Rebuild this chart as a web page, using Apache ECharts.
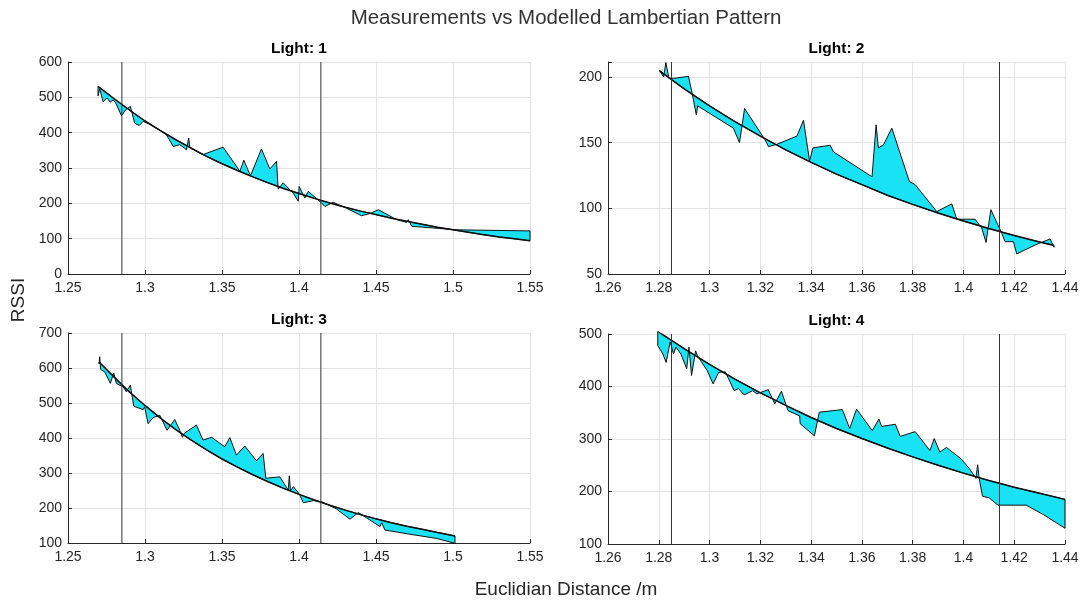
<!DOCTYPE html>
<html>
<head>
<meta charset="utf-8">
<script src="https://cdn.jsdelivr.net/npm/echarts@6/dist/echarts.min.js"></script>
<style>
html,body{margin:0;padding:0;background:#fff;}
#chart{width:1090px;height:602px;}
</style>
</head>
<body>
<div id="chart"></div>
<script>
// ---------- Data ----------
var light1X = [1.2695,1.2706,1.2728,1.2754,1.2775,1.2793,1.2810,1.2847,1.2875,1.2905,1.2933,1.2962,1.2988,1.3030,1.3070,1.3100,1.3139,1.3183,1.3226,1.3269,1.3284,1.3290,1.3356,1.3377,1.3507,1.3616,1.3642,1.3685,1.3756,1.3811,1.3854,1.3865,1.3897,1.3962,1.3995,1.4001,1.4038,1.4060,1.4147,1.4168,1.4222,1.4300,1.4406,1.4460,1.4515,1.4634,1.4699,1.4710,1.4732,1.5024,1.5500];
var light1Y = [504,524,487,498,486,493,484,448,465,474,427,420,432,424,413,406,394,361,366,352,385,360,342,338,359,291,322,278,354,297,319,240,258,229,206,248,215,234,201,191,203,188,165,171,182,154,146,154,135,125,122];
var model1X = [1.2695,1.28,1.29,1.30,1.31,1.32,1.33,1.34,1.35,1.36,1.37,1.38,1.39,1.40,1.41,1.42,1.43,1.44,1.45,1.46,1.47,1.48,1.49,1.50,1.51,1.52,1.53,1.54,1.55];
var model1Y = [531,496,464,433,406,380,356,333,312,293,275,258,242,228,214,201,189,178,168,158,149,140.5,132,125,118,111,105,99.5,94];

var light2X = [1.2803,1.2819,1.2828,1.2840,1.2861,1.2917,1.2931,1.2948,1.2953,1.3094,1.3118,1.3138,1.3219,1.3232,1.3262,1.3344,1.3370,1.3394,1.3407,1.3475,1.3488,1.3640,1.3656,1.3665,1.3685,1.3718,1.3787,1.3810,1.3895,1.3954,1.3974,1.4046,1.4072,1.4089,1.4108,1.4151,1.4164,1.4197,1.4210,1.4282,1.4341,1.4357];
var light2Y = [205,200,211,199,199,200.5,188,171,178,161,150,176,152,147,148.5,155,167,136,146,148,143,124,163.6,146,148.4,161,120.4,118,97.5,103.4,91.7,91.7,85,74,99,81,74.6,74.6,65.3,72,76.7,70.4];
var model2X = [1.2803,1.29,1.30,1.31,1.32,1.33,1.34,1.35,1.36,1.37,1.38,1.39,1.40,1.41,1.42,1.43,1.4357];
var model2Y = [204.7,191,178,166,155,144.5,135,126,118,110,103,96.4,90.3,84.6,79.3,74.4,71.7];

var light3X = [1.2702,1.2706,1.2712,1.2738,1.2775,1.2797,1.2814,1.2858,1.2879,1.2905,1.2927,1.2988,1.2998,1.3020,1.3052,1.3096,1.3143,1.3193,1.3226,1.3243,1.3254,1.3334,1.3377,1.3432,1.3518,1.3551,1.3594,1.3648,1.3724,1.3767,1.3785,1.3876,1.3930,1.3937,1.3945,1.3963,1.4002,1.4028,1.4093,1.4147,1.4244,1.4331,1.4385,1.4526,1.4537,1.4558,1.4721,1.4894,1.5013];
var light3Y = [612,632,596,589,556,586,556,546,532,551,491,481,489,441,458,465,422,453,422,402,413,437,394,402,375,401,351,377,335,356,285,289,251,292,249,261,240,215,221,218,197,168,187,147,158,137,125,113,99];
var model3X = [1.2702,1.28,1.29,1.30,1.31,1.32,1.33,1.34,1.35,1.36,1.37,1.38,1.39,1.40,1.41,1.42,1.43,1.44,1.45,1.46,1.47,1.48,1.49,1.5013];
var model3Y = [617,574,531,493,457,424,394,366,340,317,295,275,256,239,223,208,194,181,169,158,148,139,130,120];

var light4X = [1.2796,1.2816,1.2829,1.2845,1.2858,1.2868,1.2887,1.2910,1.2919,1.2929,1.2945,1.2952,1.2991,1.3014,1.3036,1.3062,1.3097,1.3114,1.3136,1.3170,1.3186,1.3231,1.3257,1.3283,1.3309,1.3355,1.3357,1.3413,1.3432,1.3523,1.3552,1.3579,1.3641,1.3667,1.3678,1.3732,1.3751,1.3810,1.3868,1.3885,1.3907,1.3933,1.3991,1.4023,1.4049,1.4056,1.4062,1.4075,1.4101,1.4136,1.4247,1.4315,1.4400];
var light4Y = [478,462,446,485,462,475,462,434,475,421,468,459,430,405,427,428,392,396,384,392,386,394,367,391,354,344,329,306,351,356,320,357,316,338,324,328,305,314,278,301,275,284,262,244,225,251,225,191,188,174,174,156,130];
var model4X = [1.2796,1.29,1.30,1.31,1.32,1.33,1.34,1.35,1.36,1.37,1.38,1.39,1.40,1.41,1.42,1.43,1.44];
var model4Y = [505,472,442,414,388,364,341,320,301,283,266,250,235,221,208,196.5,185];

var refLinesX = [1.2850, 1.4142];
var panelTitles = ['Light: 1','Light: 2','Light: 3','Light: 4'];
var xRanges = [[1.25,1.55,0.05],[1.26,1.44,0.02],[1.25,1.55,0.05],[1.26,1.44,0.02]];
var yRanges = [[0,600,100],[50,211.4,50],[100,700,100],[100,500,100]];

// ---------- Layout ----------
var grids = [
  {left:68, top:62, width:462, height:212},
  {left:608, top:62, width:457, height:212},
  {left:68, top:333, width:462, height:210},
  {left:608, top:334, width:457, height:210}
];
var FONT = '"Liberation Sans", Arial, Helvetica, sans-serif';
var AX = '#262626';
var GRIDC = '#e3e3e3';
var FILL = '#1ae2f5';

var panels = [
  [light1X, light1Y, model1X, model1Y],
  [light2X, light2Y, model2X, model2Y],
  [light3X, light3Y, model3X, model3Y],
  [light4X, light4Y, model4X, model4Y]
];

function pairs(xs, ys){ var o=[]; for(var i=0;i<xs.length;i++) o.push([xs[i], ys[i]]); return o; }

var xAxes = [], yAxes = [], series = [], titles = [];
titles.push({text:'Measurements vs Modelled Lambertian Pattern', left:566, top:8, padding:0, textAlign:'center',
  textStyle:{fontFamily:FONT, fontSize:20.5, fontWeight:'normal', color:'#333'}});

for (var g=0; g<4; g++){
  var gr = grids[g];
  titles.push({text:panelTitles[g], left: gr.left + gr.width/2, top: gr.top - 21, padding:0, textAlign:'center',
    textStyle:{fontFamily:FONT, fontSize:15.5, fontWeight:'bold', color:'#000'}});
  (function(g){
    var xr = xRanges[g], yr = yRanges[g];
    xAxes.push({gridIndex:g, type:'value', min:xr[0], max:xr[1], interval:xr[2],
      axisLine:{show:true, onZero:false, lineStyle:{color:AX, width:1}},
      axisTick:{show:true, inside:true, length:4, lineStyle:{color:AX}},
      axisLabel:{color:AX, fontFamily:FONT, fontSize:14, margin:7},
      splitLine:{show:true, lineStyle:{color:GRIDC, width:1}}});
    yAxes.push({gridIndex:g, type:'value', min:yr[0], max:yr[1], interval:yr[2],
      axisLine:{show:true, onZero:false, lineStyle:{color:AX, width:1}},
      axisTick:{show:true, inside:true, length:4, lineStyle:{color:AX}},
      axisLabel:{color:AX, fontFamily:FONT, fontSize:14, margin:6,
        formatter:function(v){ return (Math.abs(v/yr[2]-Math.round(v/yr[2]))<1e-6) ? String(v) : ''; }},
      splitLine:{show:true, lineStyle:{color:GRIDC, width:1}}});
  })(g);

  var p = panels[g];
  (function(mx,my,dx,dy,g){
    series.push({
      type:'custom', xAxisIndex:g, yAxisIndex:g, silent:true, clip:false, z:3,
      data:[[mx[0], my[0]]],
      renderItem:function(params, api){
        var pts=[];
        for (var i=0;i<mx.length;i++) pts.push(api.coord([mx[i], my[i]]));
        for (var j=dx.length-1;j>=0;j--) pts.push(api.coord([dx[j], dy[j]]));
        return {type:'polygon', shape:{points:pts},
          style:{fill:FILL, stroke:'#111', lineWidth:1, lineJoin:'round'}};
      }
    });
  })(p[0],p[1],p[2],p[3],g);
  series.push({type:'line', xAxisIndex:g, yAxisIndex:g, data:pairs(p[2],p[3]), showSymbol:false,
    silent:true, z:4, lineStyle:{color:'#111', width:1.5}});
  for (var k=0;k<refLinesX.length;k++){
    var yr = yRanges[g];
    series.push({type:'line', xAxisIndex:g, yAxisIndex:g, showSymbol:false, silent:true, z:5,
      data:[[refLinesX[k], yr[0]],[refLinesX[k], yr[1]]],
      lineStyle:{color:'#333', width:1}});
  }
}

var chart = echarts.init(document.getElementById('chart'), null, {renderer:'canvas'});
chart.setOption({
  animation:false,
  backgroundColor:'#fff',
  title:titles,
  grid:grids,
  xAxis:xAxes,
  yAxis:yAxes,
  series:series,
  graphic:[
    {type:'text', x:566, y:590, style:{text:'Euclidian Distance /m', font:'19px "Liberation Sans", Arial, sans-serif', fill:'#262626', textAlign:'center', textVerticalAlign:'middle'}},
    {type:'text', x:19, y:300, rotation:Math.PI/2, style:{text:'RSSI', font:'19px "Liberation Sans", Arial, sans-serif', fill:'#262626', textAlign:'center', textVerticalAlign:'middle'}}
  ]
});
</script>
</body>
</html>
